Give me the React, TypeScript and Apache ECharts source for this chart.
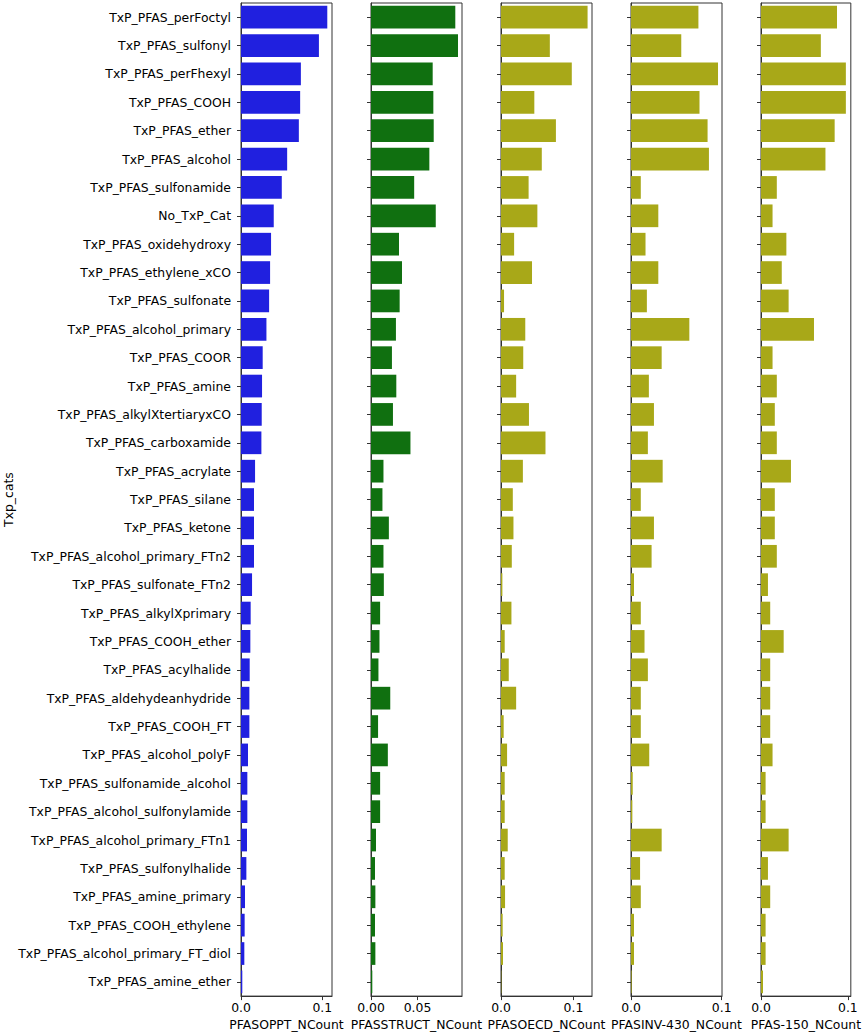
import React, { useEffect, useRef } from "react";
import * as echarts from "echarts";

const categories = [
  "TxP_PFAS_perFoctyl",
  "TxP_PFAS_sulfonyl",
  "TxP_PFAS_perFhexyl",
  "TxP_PFAS_COOH",
  "TxP_PFAS_ether",
  "TxP_PFAS_alcohol",
  "TxP_PFAS_sulfonamide",
  "No_TxP_Cat",
  "TxP_PFAS_oxidehydroxy",
  "TxP_PFAS_ethylene_xCO",
  "TxP_PFAS_sulfonate",
  "TxP_PFAS_alcohol_primary",
  "TxP_PFAS_COOR",
  "TxP_PFAS_amine",
  "TxP_PFAS_alkylXtertiaryxCO",
  "TxP_PFAS_carboxamide",
  "TxP_PFAS_acrylate",
  "TxP_PFAS_silane",
  "TxP_PFAS_ketone",
  "TxP_PFAS_alcohol_primary_FTn2",
  "TxP_PFAS_sulfonate_FTn2",
  "TxP_PFAS_alkylXprimary",
  "TxP_PFAS_COOH_ether",
  "TxP_PFAS_acylhalide",
  "TxP_PFAS_aldehydeanhydride",
  "TxP_PFAS_COOH_FT",
  "TxP_PFAS_alcohol_polyF",
  "TxP_PFAS_sulfonamide_alcohol",
  "TxP_PFAS_alcohol_sulfonylamide",
  "TxP_PFAS_alcohol_primary_FTn1",
  "TxP_PFAS_sulfonylhalide",
  "TxP_PFAS_amine_primary",
  "TxP_PFAS_COOH_ethylene",
  "TxP_PFAS_alcohol_primary_FT_diol",
  "TxP_PFAS_amine_ether",
];

const pfasoppt = [
  0.1062, 0.0959, 0.0737, 0.0728, 0.0712, 0.0568, 0.0502, 0.0403, 0.037, 0.0358,
  0.0346, 0.0313, 0.0267, 0.0259, 0.0255, 0.0251, 0.0173, 0.016, 0.016, 0.016,
  0.0136, 0.0119, 0.0115, 0.0107, 0.0103, 0.0103, 0.0086, 0.0078, 0.0078, 0.0074,
  0.0066, 0.0049, 0.0045, 0.0041, 0.0016,
];

const pfasstruct = [
  0.0906, 0.0935, 0.0663, 0.067, 0.0674, 0.0627, 0.0464, 0.0696, 0.0301, 0.0333,
  0.0308, 0.0268, 0.0225, 0.0272, 0.0236, 0.0424, 0.0134, 0.0123, 0.0192, 0.0134,
  0.0138, 0.0098, 0.0091, 0.008, 0.0207, 0.0076, 0.0181, 0.0098, 0.0098, 0.0054,
  0.0043, 0.0047, 0.0043, 0.0047, 0.0014,
];

const pfasoecd = [
  0.1195, 0.0674, 0.0977, 0.046, 0.0758, 0.0563, 0.0381, 0.0502, 0.0181, 0.0428,
  0.0042, 0.0335, 0.0307, 0.0209, 0.0386, 0.0614, 0.0302, 0.0163, 0.0172, 0.0149,
  0.0019, 0.0144, 0.0051, 0.0107, 0.0209, 0.0037, 0.0084, 0.0051, 0.0051, 0.0093,
  0.0051, 0.0056, 0.0023, 0.0028, 0.0005,
];

const pfasinv430 = [
  0.0743, 0.0554, 0.0959, 0.0755, 0.0844, 0.0859, 0.0108, 0.0301, 0.016, 0.0301,
  0.0175, 0.0643, 0.0338, 0.0197, 0.0253, 0.0186, 0.0349, 0.0108, 0.0253, 0.0227,
  0.0033, 0.0108, 0.0149, 0.0186, 0.0108, 0.0108, 0.0201, 0.0019, 0.0015, 0.0338,
  0.01, 0.0108, 0.0033, 0.0033, 0.0007,
];

const pfas150 = [
  0.0875, 0.0689, 0.0977, 0.0977, 0.0848, 0.0742, 0.0182, 0.0133, 0.0292, 0.0239,
  0.0318, 0.061, 0.0133, 0.0182, 0.0159, 0.0182, 0.0345, 0.0159, 0.0159, 0.0182,
  0.008, 0.0106, 0.0261, 0.0106, 0.0106, 0.0106, 0.0133, 0.0053, 0.0053, 0.0318,
  0.008, 0.0106, 0.0053, 0.0053, 0.0023,
];

const panelNames = [
  "PFASOPPT_NCount",
  "PFASSTRUCT_NCount",
  "PFASOECD_NCount",
  "PFASINV-430_NCount",
  "PFAS-150_NCount",
];
const panelData = [pfasoppt, pfasstruct, pfasoecd, pfasinv430, pfas150];
const panelMax = [0.112, 0.0978, 0.1256, 0.1003, 0.1034];
const panelTicks = [
  [0, 0.1],
  [0, 0.05],
  [0, 0.1],
  [0, 0.1],
  [0, 0.1],
];
const panelDecimals = [1, 2, 1, 1, 1];
const panelColors = ["#2020df", "#107010", "#a8a818", "#a8a818", "#a8a818"];
const yAxisTitle = "Txp_cats";

const gridLefts = [241, 371, 501, 631, 761];
const gridWidth = 91;
const gridTop = 3;
const gridHeight = 999;

const FONT = "DejaVu Sans";
const FONT_SIZE = 12.4;
const AXIS_COLOR = "#333333";

export default function App() {
  const ref = useRef<HTMLDivElement>(null);

  useEffect(() => {
    if (!ref.current) return;
    const chart = echarts.init(ref.current, null, { renderer: "svg" });

    const grids = gridLefts.map((left) => ({
      left,
      top: gridTop,
      width: gridWidth,
      height: gridHeight,
      show: true,
      borderColor: AXIS_COLOR,
      borderWidth: 1,
      backgroundColor: "#ffffff",
    }));

    const xAxes = panelNames.map((name, i) => ({
      type: "value",
      gridIndex: i,
      min: 0,
      max: panelMax[i],
      name,
      nameLocation: "middle",
      nameGap: 16,
      nameTextStyle: { fontFamily: FONT, fontSize: FONT_SIZE, color: "#000" },
      splitLine: { show: false },
      axisLine: { show: true, lineStyle: { color: AXIS_COLOR, width: 1 } },
      axisTick: {
        show: true,
        length: 4,
        customValues: panelTicks[i],
        lineStyle: { color: AXIS_COLOR },
      },
      axisLabel: {
        show: true,
        customValues: panelTicks[i],
        margin: 5,
        fontFamily: FONT,
        fontSize: FONT_SIZE,
        color: "#000",
        formatter: (v: number) => v.toFixed(panelDecimals[i]),
      },
    }));

    const yAxes = panelNames.map((_, i) => ({
      type: "category",
      gridIndex: i,
      data: categories,
      inverse: true,
      name: i === 0 ? yAxisTitle : "",
      nameLocation: "middle",
      nameRotate: 90,
      nameGap: 226,
      nameTextStyle: { fontFamily: FONT, fontSize: FONT_SIZE, color: "#000" },
      axisLine: { show: true, lineStyle: { color: AXIS_COLOR, width: 1 } },
      axisTick: {
        show: true,
        alignWithLabel: true,
        length: 4,
        lineStyle: { color: AXIS_COLOR },
      },
      axisLabel: {
        show: i === 0,
        interval: 0,
        margin: 10,
        fontFamily: FONT,
        fontSize: FONT_SIZE,
        color: "#000",
      },
      splitLine: { show: false },
    }));

    const series = panelData.map((data, i) => ({
      type: "bar",
      name: panelNames[i],
      xAxisIndex: i,
      yAxisIndex: i,
      data,
      barCategoryGap: "20%",
      itemStyle: { color: panelColors[i] },
      silent: true,
    }));

    chart.setOption({
      animation: false,
      backgroundColor: "#ffffff",
      grid: grids,
      xAxis: xAxes,
      yAxis: yAxes,
      series,
    });

    return () => chart.dispose();
  }, []);

  return (
    <div
      ref={ref}
      style={{ position: "absolute", left: 0, top: 0, width: 864, height: 1035 }}
    />
  );
}
